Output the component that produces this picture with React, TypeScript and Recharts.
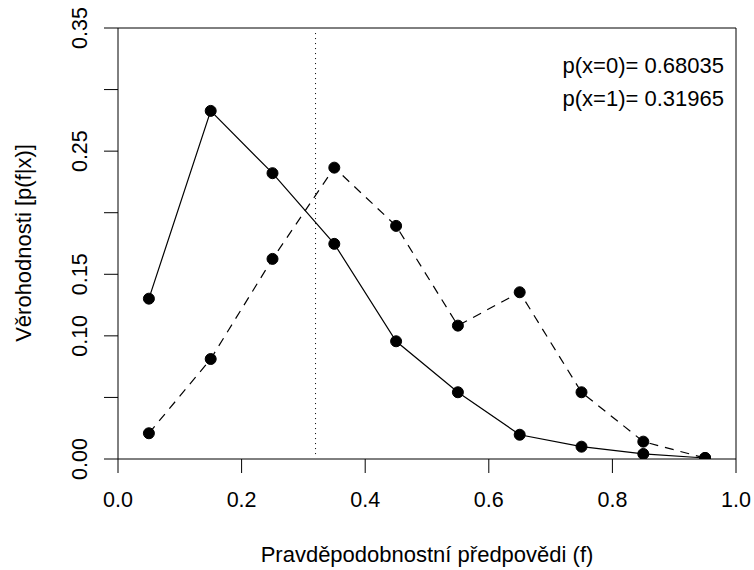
import { LineChart, Line, XAxis, YAxis, ReferenceLine, Customized } from "recharts";

const forecasts = [0.05, 0.15, 0.25, 0.35, 0.45, 0.55, 0.65, 0.75, 0.85, 0.95];
// p(f | x=0) - solid line
const likelihoodX0 = [0.1302, 0.2827, 0.2321, 0.1747, 0.0956, 0.0542, 0.0197, 0.01, 0.0041, 0.0008];
// p(f | x=1) - dashed line
const likelihoodX1 = [0.0209, 0.0812, 0.1625, 0.2366, 0.1893, 0.1083, 0.1354, 0.0542, 0.0141, 0.0008];

const xTicks = [0, 0.2, 0.4, 0.6, 0.8, 1.0];
const yTicks = [0, 0.05, 0.1, 0.15, 0.2, 0.25, 0.3, 0.35];
const yLabelled = [0, 0.1, 0.15, 0.25, 0.35];

const climatology = 0.31965;
const priorLines = ["p(x=0)= 0.68035", "p(x=1)= 0.31965"];

const FONT = "'Liberation Sans', Arial, Helvetica, sans-serif";
const FS_TICK = 21.5;
const FS = 22;

const data = forecasts.map((f, i) => ({ f, p0: likelihoodX0[i], p1: likelihoodX1[i] }));

function XTick(props: any) {
  const { x, y, payload } = props;
  return (
    <text x={x} y={y + 34} textAnchor="middle" fontFamily={FONT} fontSize={FS_TICK} fill="#000">
      {payload.value.toFixed(1)}
    </text>
  );
}

function YTick(props: any) {
  const { x, y, payload } = props;
  const show = yLabelled.some((v) => Math.abs(v - payload.value) < 1e-9);
  if (!show) return <g />;
  const bx = x - 17;
  return (
    <text
      x={bx}
      y={y}
      transform={`rotate(-90, ${bx}, ${y})`}
      textAnchor="middle"
      fontFamily={FONT}
      fontSize={FS_TICK}
      fill="#000"
    >
      {payload.value.toFixed(2)}
    </text>
  );
}

function Annotations() {
  return (
    <g fontFamily={FONT} fontSize={FS} fill="#000">
      <text x={724} y={73} textAnchor="end">{priorLines[0]}</text>
      <text x={724} y={106} textAnchor="end">{priorLines[1]}</text>
      <text x={427} y={562} textAnchor="middle">Pravděpodobnostní předpovědi (f)</text>
      <text x={31} y={243} textAnchor="middle" transform="rotate(-90, 31, 243)">
        Věrohodnosti [p(f|x)]
      </text>
    </g>
  );
}

export default function App() {
  return (
    <div style={{ position: "absolute", left: 0, top: 0, background: "#fff" }}>
      <LineChart width={754} height={570} data={data} margin={{ top: 28, right: 18, left: 0, bottom: 0 }}>
        <XAxis
          dataKey="f"
          type="number"
          domain={[0, 1]}
          ticks={xTicks}
          tickSize={14}
          tickMargin={0}
          tick={<XTick />}
          height={111}
          axisLine={{ stroke: "#000" }}
          tickLine={{ stroke: "#000" }}
          allowDataOverflow
        />
        <YAxis
          type="number"
          domain={[0, 0.35]}
          ticks={yTicks}
          tickSize={14}
          tickMargin={0}
          tick={<YTick />}
          width={118}
          axisLine={{ stroke: "#000" }}
          tickLine={{ stroke: "#000" }}
          allowDataOverflow
          interval={0}
        />
        <ReferenceLine y={0.35} stroke="#000" />
        <ReferenceLine x={1} stroke="#000" />
        <ReferenceLine
          segment={[
            { x: climatology, y: 0.004 },
            { x: climatology, y: 0.346 },
          ]}
          stroke="#000"
          strokeDasharray="1 4"
        />
        <Line
          dataKey="p0"
          type="linear"
          stroke="#000"
          strokeWidth={1.2}
          dot={{ r: 5.5, fill: "#000", stroke: "#000", strokeWidth: 1 }}
          activeDot={false}
          isAnimationActive={false}
        />
        <Line
          dataKey="p1"
          type="linear"
          stroke="#000"
          strokeWidth={1.2}
          strokeDasharray="9 7"
          dot={{ r: 5.5, fill: "#000", stroke: "#000", strokeWidth: 1, strokeDasharray: "" }}
          activeDot={false}
          isAnimationActive={false}
        />
        <Customized component={Annotations} />
      </LineChart>
    </div>
  );
}
